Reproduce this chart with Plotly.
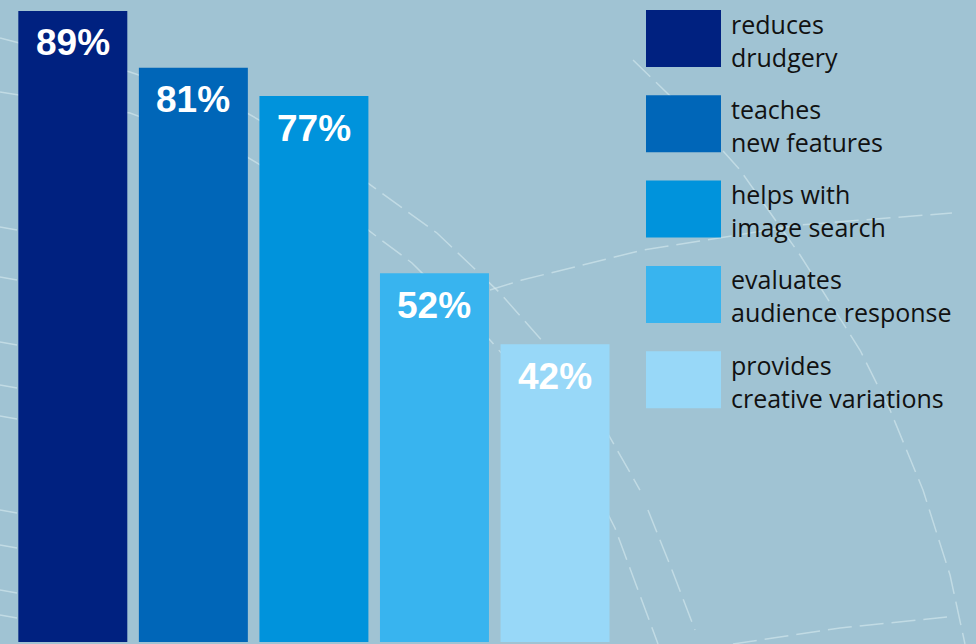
import plotly.graph_objects as go

categories = ["reduces drudgery", "teaches new features", "helps with image search",
              "evaluates audience response", "provides creative variations"]
legend_lines = [["reduces", "drudgery"], ["teaches", "new features"], ["helps with", "image search"],
                ["evaluates", "audience response"], ["provides", "creative variations"]]
values = [89, 81, 77, 52, 42]
colors = ["#002180", "#0066b8", "#0093dc", "#38b4ef", "#98d8f8"]

W, H = 976, 644
BG = "#a0c3d3"

fig = go.Figure()
fig.add_trace(go.Bar(
    x=list(range(len(values))), y=values, width=0.904,
    marker=dict(color=colors, line=dict(width=0)),
    hoverinfo="skip", showlegend=False,
))

annotations = []
for i, v in enumerate(values):
    annotations.append(dict(
        x=i, y=v, xref="x", yref="y", text=f"{v}%", showarrow=False,
        yanchor="middle", xanchor="center", yshift=-32,
        font=dict(family="Liberation Sans, Arial", size=37, color="white", weight="bold"),
    ))

def px(x): return x / W
def py(y): return 1 - y / H

shapes = []
sq_x0, sq_x1 = 646, 721
for i, (lines, c) in enumerate(zip(legend_lines, colors)):
    top = 10 + i * 85.3
    shapes.append(dict(type="rect", xref="paper", yref="paper",
                       x0=px(sq_x0), x1=px(sq_x1), y0=py(top + 57), y1=py(top),
                       fillcolor=c, line=dict(width=0), layer="above"))
    annotations.append(dict(
        x=px(729), y=py(top + 30), xref="paper", yref="paper",
        text="<br>".join(lines), showarrow=False, xanchor="left", yanchor="middle",
        align="left",
        font=dict(family="Open Sans", size=25, color="#111111"),
    ))

# decorative faint dashed arcs in the background
arcs = [
    [(0, 38), (130, 72), (247, 113), (368, 183), (437, 233), (500, 293), (545, 344), (600, 420), (640, 490)],
    [(0, 92), (130, 113), (247, 157), (368, 230), (412, 263), (490, 340), (560, 420), (615, 528), (658, 644)],
    [(490, 290), (522, 280), (643, 250), (800, 225), (952, 213)],
    [(633, 60), (700, 125), (740, 170), (800, 255), (860, 350), (890, 410), (923, 490), (950, 575), (965, 644)],
    [(648, 510), (672, 570), (695, 630)],
    [(733, 644), (840, 628), (947, 617)],
]
for pts in arcs:
    path = "M " + " L ".join(f"{px(x):.4f},{py(y):.4f}" for x, y in pts)
    shapes.append(dict(type="path", path=path, xref="paper", yref="paper",
                       line=dict(color="rgba(220,238,243,0.55)", width=1.5, dash="24px,8px"),
                       layer="below"))
for y in [227, 277, 342, 385, 416, 510, 545, 590, 615]:
    shapes.append(dict(type="line", xref="paper", yref="paper",
                       x0=px(0), x1=px(17), y0=py(y), y1=py(y + 3),
                       line=dict(color="rgba(220,238,243,0.55)", width=1.5),
                       layer="below"))

fig.update_layout(
    width=W, height=H,
    margin=dict(l=0, r=0, t=0, b=0),
    paper_bgcolor=BG, plot_bgcolor=BG,
    xaxis=dict(range=[-0.604, 7.492], visible=False, fixedrange=True),
    yaxis=dict(range=[-0.282, 90.55], visible=False, fixedrange=True),
    shapes=shapes, annotations=annotations,
    showlegend=False,
)

fig.write_html("out.html", config={"displayModeBar": False},
               post_script="document.body.style.margin='0';document.body.style.overflow='hidden';")
